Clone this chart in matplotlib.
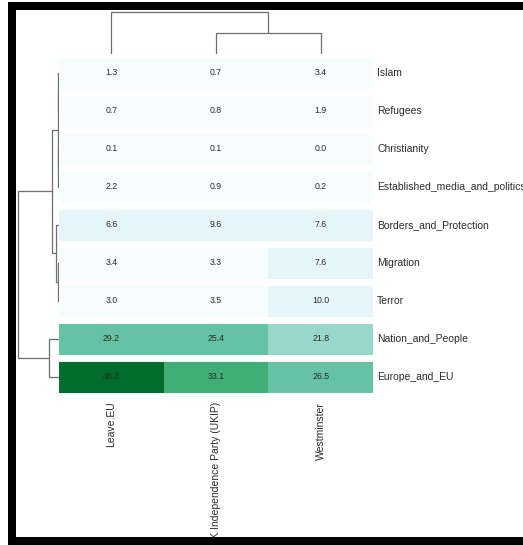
import numpy as np
import matplotlib
matplotlib.use("Agg")
import matplotlib.pyplot as plt
from matplotlib.colors import ListedColormap
from matplotlib.patches import Rectangle

# ---- data -------------------------------------------------------------
topics = ["Islam", "Refugees", "Christianity", "Established_media_and_politics",
          "Borders_and_Protection", "Migration", "Terror", "Nation_and_People",
          "Europe_and_EU"]
sources = ["Leave.EU", "UK Independence Party (UKIP)", "Westminster"]

leave_eu = [1.3, 0.7, 0.1, 2.2, 6.6, 3.4, 3.0, 29.2, 48.3]
ukip = [0.7, 0.8, 0.1, 0.9, 9.6, 3.3, 3.5, 25.4, 33.1]
westminster = [3.4, 1.9, 0.0, 0.2, 7.6, 7.6, 10.0, 21.8, 26.5]

# hierarchical merges: (node a, node b, merge height); leaves are 0..n-1
row_merges = [(0, 1, 2.0), (2, 3, 2.5), (9, 10, 3.2), (5, 6, 3.6),
              (4, 12, 8.5), (11, 13, 18.0), (7, 8, 25.0), (14, 15, 100.0)]
col_merges = [(1, 2, 48.7), (0, 3, 100.0)]

palette = ["#f7fcfd", "#e5f5f9", "#ccece6", "#99d8c9",
           "#66c2a4", "#41ae76", "#238b45", "#006d2c"]

# ---- helpers ----------------------------------------------------------
W, H = 523, 545


def fig_rect(x0, y0, x1, y1):
    """pixel box (top-left origin) -> figure fraction rect"""
    return [x0 / W, 1 - y1 / H, (x1 - x0) / W, (y1 - y0) / H]


def dendro_segments(n_leaves, merges):
    pos = {i: i + 0.5 for i in range(n_leaves)}
    hgt = {i: 0.0 for i in range(n_leaves)}
    segs = []
    for k, (a, b, h) in enumerate(merges):
        node = n_leaves + k
        segs.append(([pos[a], pos[a], pos[b], pos[b]], [hgt[a], h, h, hgt[b]]))
        pos[node] = (pos[a] + pos[b]) / 2
        hgt[node] = h
    return segs


plt.rcParams["font.family"] = ["Liberation Sans", "DejaVu Sans"]
text_color = "#2b2b2b"
line_color = "#6e6e6e"

fig = plt.figure(figsize=(W / 100, H / 100), dpi=100)
fig.patch.set_facecolor("white")

# ---- heatmap ----------------------------------------------------------
data = np.array([leave_eu, ukip, westminster]).T
n_rows, n_cols = data.shape

ax = fig.add_axes(fig_rect(59, 53.5, 373, 395.5))
cmap = ListedColormap(palette)
ax.pcolormesh(np.arange(n_cols + 1), np.arange(n_rows + 1), data,
              cmap=cmap, vmin=data.min(), vmax=data.max())
for r in range(n_rows + 1):
    ax.axhline(r, color="white", lw=5.0)
for r in range(n_rows):
    for c in range(n_cols):
        ax.text(c + 0.5, r + 0.5, f"{data[r, c]:.1f}", ha="center", va="center",
                fontsize=6.3, color=text_color)
ax.set_xlim(0, n_cols)
ax.set_ylim(n_rows, 0)
for s in ax.spines.values():
    s.set_visible(False)
ax.yaxis.tick_right()
ax.set_yticks(np.arange(n_rows) + 0.5)
ax.set_yticklabels(topics, fontsize=7.5, color=text_color)
ax.set_xticks(np.arange(n_cols) + 0.5)
ax.set_xticklabels(sources, rotation=90, fontsize=7.5, color=text_color)
ax.tick_params(axis="both", length=0)
ax.tick_params(axis="y", pad=3)
ax.tick_params(axis="x", pad=4.5)

# ---- row dendrogram ---------------------------------------------------
axr = fig.add_axes(fig_rect(17, 53.5, 59, 395.5))
for ys, xs in dendro_segments(n_rows, row_merges):
    axr.plot(xs, ys, color=line_color, lw=0.9, solid_capstyle="butt")
axr.set_ylim(n_rows, 0)
axr.set_xlim(103, 0)
axr.axis("off")

# ---- column dendrogram ------------------------------------------------
axc = fig.add_axes(fig_rect(59, 11, 373, 53.5))
for xs, ys in dendro_segments(n_cols, col_merges):
    axc.plot(xs, ys, color=line_color, lw=0.9, solid_capstyle="butt")
axc.set_xlim(0, n_cols)
axc.set_ylim(0, 103)
axc.axis("off")

# ---- frame ------------------------------------------------------------
for x0, y0, x1, y1 in [(8, 2, 16, 545), (8, 2, 523, 10), (8, 537, 523, 545)]:
    fig.add_artist(Rectangle((x0 / W, 1 - y1 / H), (x1 - x0) / W, (y1 - y0) / H,
                             transform=fig.transFigure, facecolor="black",
                             edgecolor="none", zorder=10))

fig.savefig("out.png", dpi=100)
